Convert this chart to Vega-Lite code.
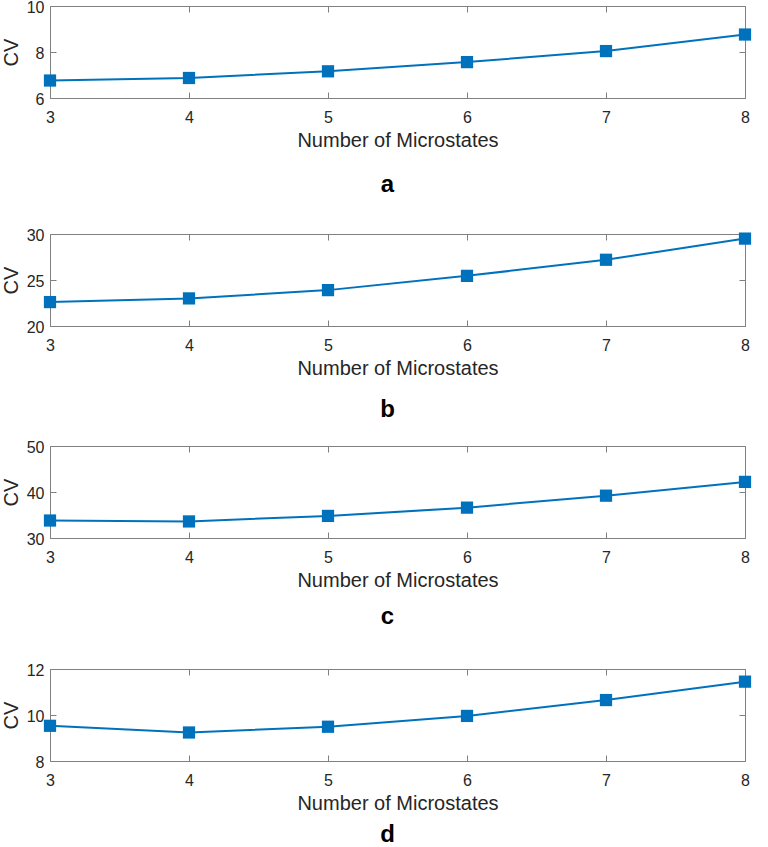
{
  "$schema": "https://vega.github.io/schema/vega-lite/v6.json",
  "padding": {"left": 0, "top": -2, "right": 5, "bottom": 5},
  "spacing": 15,
  "config": {
    "font": "Liberation Sans",
    "view": {"stroke": "#808080", "strokeWidth": 1},
    "axis": {
      "grid": false,
      "domain": false,
      "tickColor": "#808080",
      "tickSize": -6,
      "labelFontSize": 16,
      "labelColor": "#262626",
      "titleFontSize": 20,
      "titleFontWeight": "normal",
      "titleColor": "#262626"
    },
    "axisLeft": {"labelOffset": 1},
    "title": {"fontSize": 24, "fontWeight": "bold", "color": "#000000", "subtitleFontSize": 10}
  },
  "vconcat": [
    {
      "width": 695, "height": 92,
      "title": {"text": "a", "subtitle": " ", "subtitlePadding": 3, "orient": "bottom", "anchor": "middle", "dx": -10, "offset": 23},
      "data": {"values": [
        {"n": 3, "cv": 6.76}, {"n": 4, "cv": 6.87}, {"n": 5, "cv": 7.16},
        {"n": 6, "cv": 7.56}, {"n": 7, "cv": 8.04}, {"n": 8, "cv": 8.76}
      ]},
      "layer": [
        {
          "mark": {"type": "line", "color": "#0072BD", "strokeWidth": 2},
          "encoding": {
            "x": {"field": "n", "type": "quantitative", "scale": {"domain": [3, 8], "nice": false},
                  "axis": {"orient": "bottom", "values": [3,4,5,6,7,8], "title": "Number of Microstates", "labelPadding": 17, "titlePadding": 5, "labelFlush": false}},
            "y": {"field": "cv", "type": "quantitative", "scale": {"domain": [6, 10], "nice": false, "zero": false},
                  "axis": {"orient": "left", "values": [6,8,10], "title": "CV", "labelPadding": 12, "titlePadding": 5, "labelFlush": false}}
          }
        },
        {
          "mark": {"type": "point", "shape": "square", "filled": true, "size": 150, "color": "#0072BD", "opacity": 1},
          "encoding": {
            "x": {"field": "n", "type": "quantitative", "axis": {"orient": "top", "values": [3,4,5,6,7,8], "labels": false, "title": null}},
            "y": {"field": "cv", "type": "quantitative", "axis": {"orient": "right", "values": [6,8,10], "labels": false, "title": null}}
          }
        }
      ],
      "resolve": {"axis": {"x": "independent", "y": "independent"}}
    },
    {
      "width": 695, "height": 92,
      "title": {"text": "b", "orient": "bottom", "anchor": "middle", "dx": -10, "offset": 20},
      "data": {"values": [
        {"n": 3, "cv": 22.6}, {"n": 4, "cv": 23.0}, {"n": 5, "cv": 23.9},
        {"n": 6, "cv": 25.45}, {"n": 7, "cv": 27.2}, {"n": 8, "cv": 29.5}
      ]},
      "layer": [
        {
          "mark": {"type": "line", "color": "#0072BD", "strokeWidth": 2},
          "encoding": {
            "x": {"field": "n", "type": "quantitative", "scale": {"domain": [3, 8], "nice": false},
                  "axis": {"orient": "bottom", "values": [3,4,5,6,7,8], "title": "Number of Microstates", "labelPadding": 17, "titlePadding": 5, "labelFlush": false}},
            "y": {"field": "cv", "type": "quantitative", "scale": {"domain": [20, 30], "nice": false, "zero": false},
                  "axis": {"orient": "left", "values": [20,25,30], "title": "CV", "labelPadding": 12, "titlePadding": 5, "labelFlush": false}}
          }
        },
        {
          "mark": {"type": "point", "shape": "square", "filled": true, "size": 150, "color": "#0072BD", "opacity": 1},
          "encoding": {
            "x": {"field": "n", "type": "quantitative", "axis": {"orient": "top", "values": [3,4,5,6,7,8], "labels": false, "title": null}},
            "y": {"field": "cv", "type": "quantitative", "axis": {"orient": "right", "values": [20,25,30], "labels": false, "title": null}}
          }
        }
      ],
      "resolve": {"axis": {"x": "independent", "y": "independent"}}
    },
    {
      "width": 695, "height": 92,
      "title": {"text": "c", "subtitle": " ", "subtitlePadding": 6, "orient": "bottom", "anchor": "middle", "dx": -10, "offset": 15},
      "data": {"values": [
        {"n": 3, "cv": 33.8}, {"n": 4, "cv": 33.6}, {"n": 5, "cv": 34.8},
        {"n": 6, "cv": 36.6}, {"n": 7, "cv": 39.2}, {"n": 8, "cv": 42.2}
      ]},
      "layer": [
        {
          "mark": {"type": "line", "color": "#0072BD", "strokeWidth": 2},
          "encoding": {
            "x": {"field": "n", "type": "quantitative", "scale": {"domain": [3, 8], "nice": false},
                  "axis": {"orient": "bottom", "values": [3,4,5,6,7,8], "title": "Number of Microstates", "labelPadding": 17, "titlePadding": 5, "labelFlush": false}},
            "y": {"field": "cv", "type": "quantitative", "scale": {"domain": [30, 50], "nice": false, "zero": false},
                  "axis": {"orient": "left", "values": [30,40,50], "title": "CV", "labelPadding": 12, "titlePadding": 5, "labelFlush": false}}
          }
        },
        {
          "mark": {"type": "point", "shape": "square", "filled": true, "size": 150, "color": "#0072BD", "opacity": 1},
          "encoding": {
            "x": {"field": "n", "type": "quantitative", "axis": {"orient": "top", "values": [3,4,5,6,7,8], "labels": false, "title": null}},
            "y": {"field": "cv", "type": "quantitative", "axis": {"orient": "right", "values": [30,40,50], "labels": false, "title": null}}
          }
        }
      ],
      "resolve": {"axis": {"x": "independent", "y": "independent"}}
    },
    {
      "width": 695, "height": 92,
      "title": {"text": "d", "orient": "bottom", "anchor": "middle", "dx": -10, "offset": 10},
      "data": {"values": [
        {"n": 3, "cv": 9.53}, {"n": 4, "cv": 9.24}, {"n": 5, "cv": 9.49},
        {"n": 6, "cv": 9.96}, {"n": 7, "cv": 10.65}, {"n": 8, "cv": 11.45}
      ]},
      "layer": [
        {
          "mark": {"type": "line", "color": "#0072BD", "strokeWidth": 2},
          "encoding": {
            "x": {"field": "n", "type": "quantitative", "scale": {"domain": [3, 8], "nice": false},
                  "axis": {"orient": "bottom", "values": [3,4,5,6,7,8], "title": "Number of Microstates", "labelPadding": 17, "titlePadding": 5, "labelFlush": false}},
            "y": {"field": "cv", "type": "quantitative", "scale": {"domain": [8, 12], "nice": false, "zero": false},
                  "axis": {"orient": "left", "values": [8,10,12], "title": "CV", "labelPadding": 12, "titlePadding": 5, "labelFlush": false}}
          }
        },
        {
          "mark": {"type": "point", "shape": "square", "filled": true, "size": 150, "color": "#0072BD", "opacity": 1},
          "encoding": {
            "x": {"field": "n", "type": "quantitative", "axis": {"orient": "top", "values": [3,4,5,6,7,8], "labels": false, "title": null}},
            "y": {"field": "cv", "type": "quantitative", "axis": {"orient": "right", "values": [8,10,12], "labels": false, "title": null}}
          }
        }
      ],
      "resolve": {"axis": {"x": "independent", "y": "independent"}}
    }
  ]
}
